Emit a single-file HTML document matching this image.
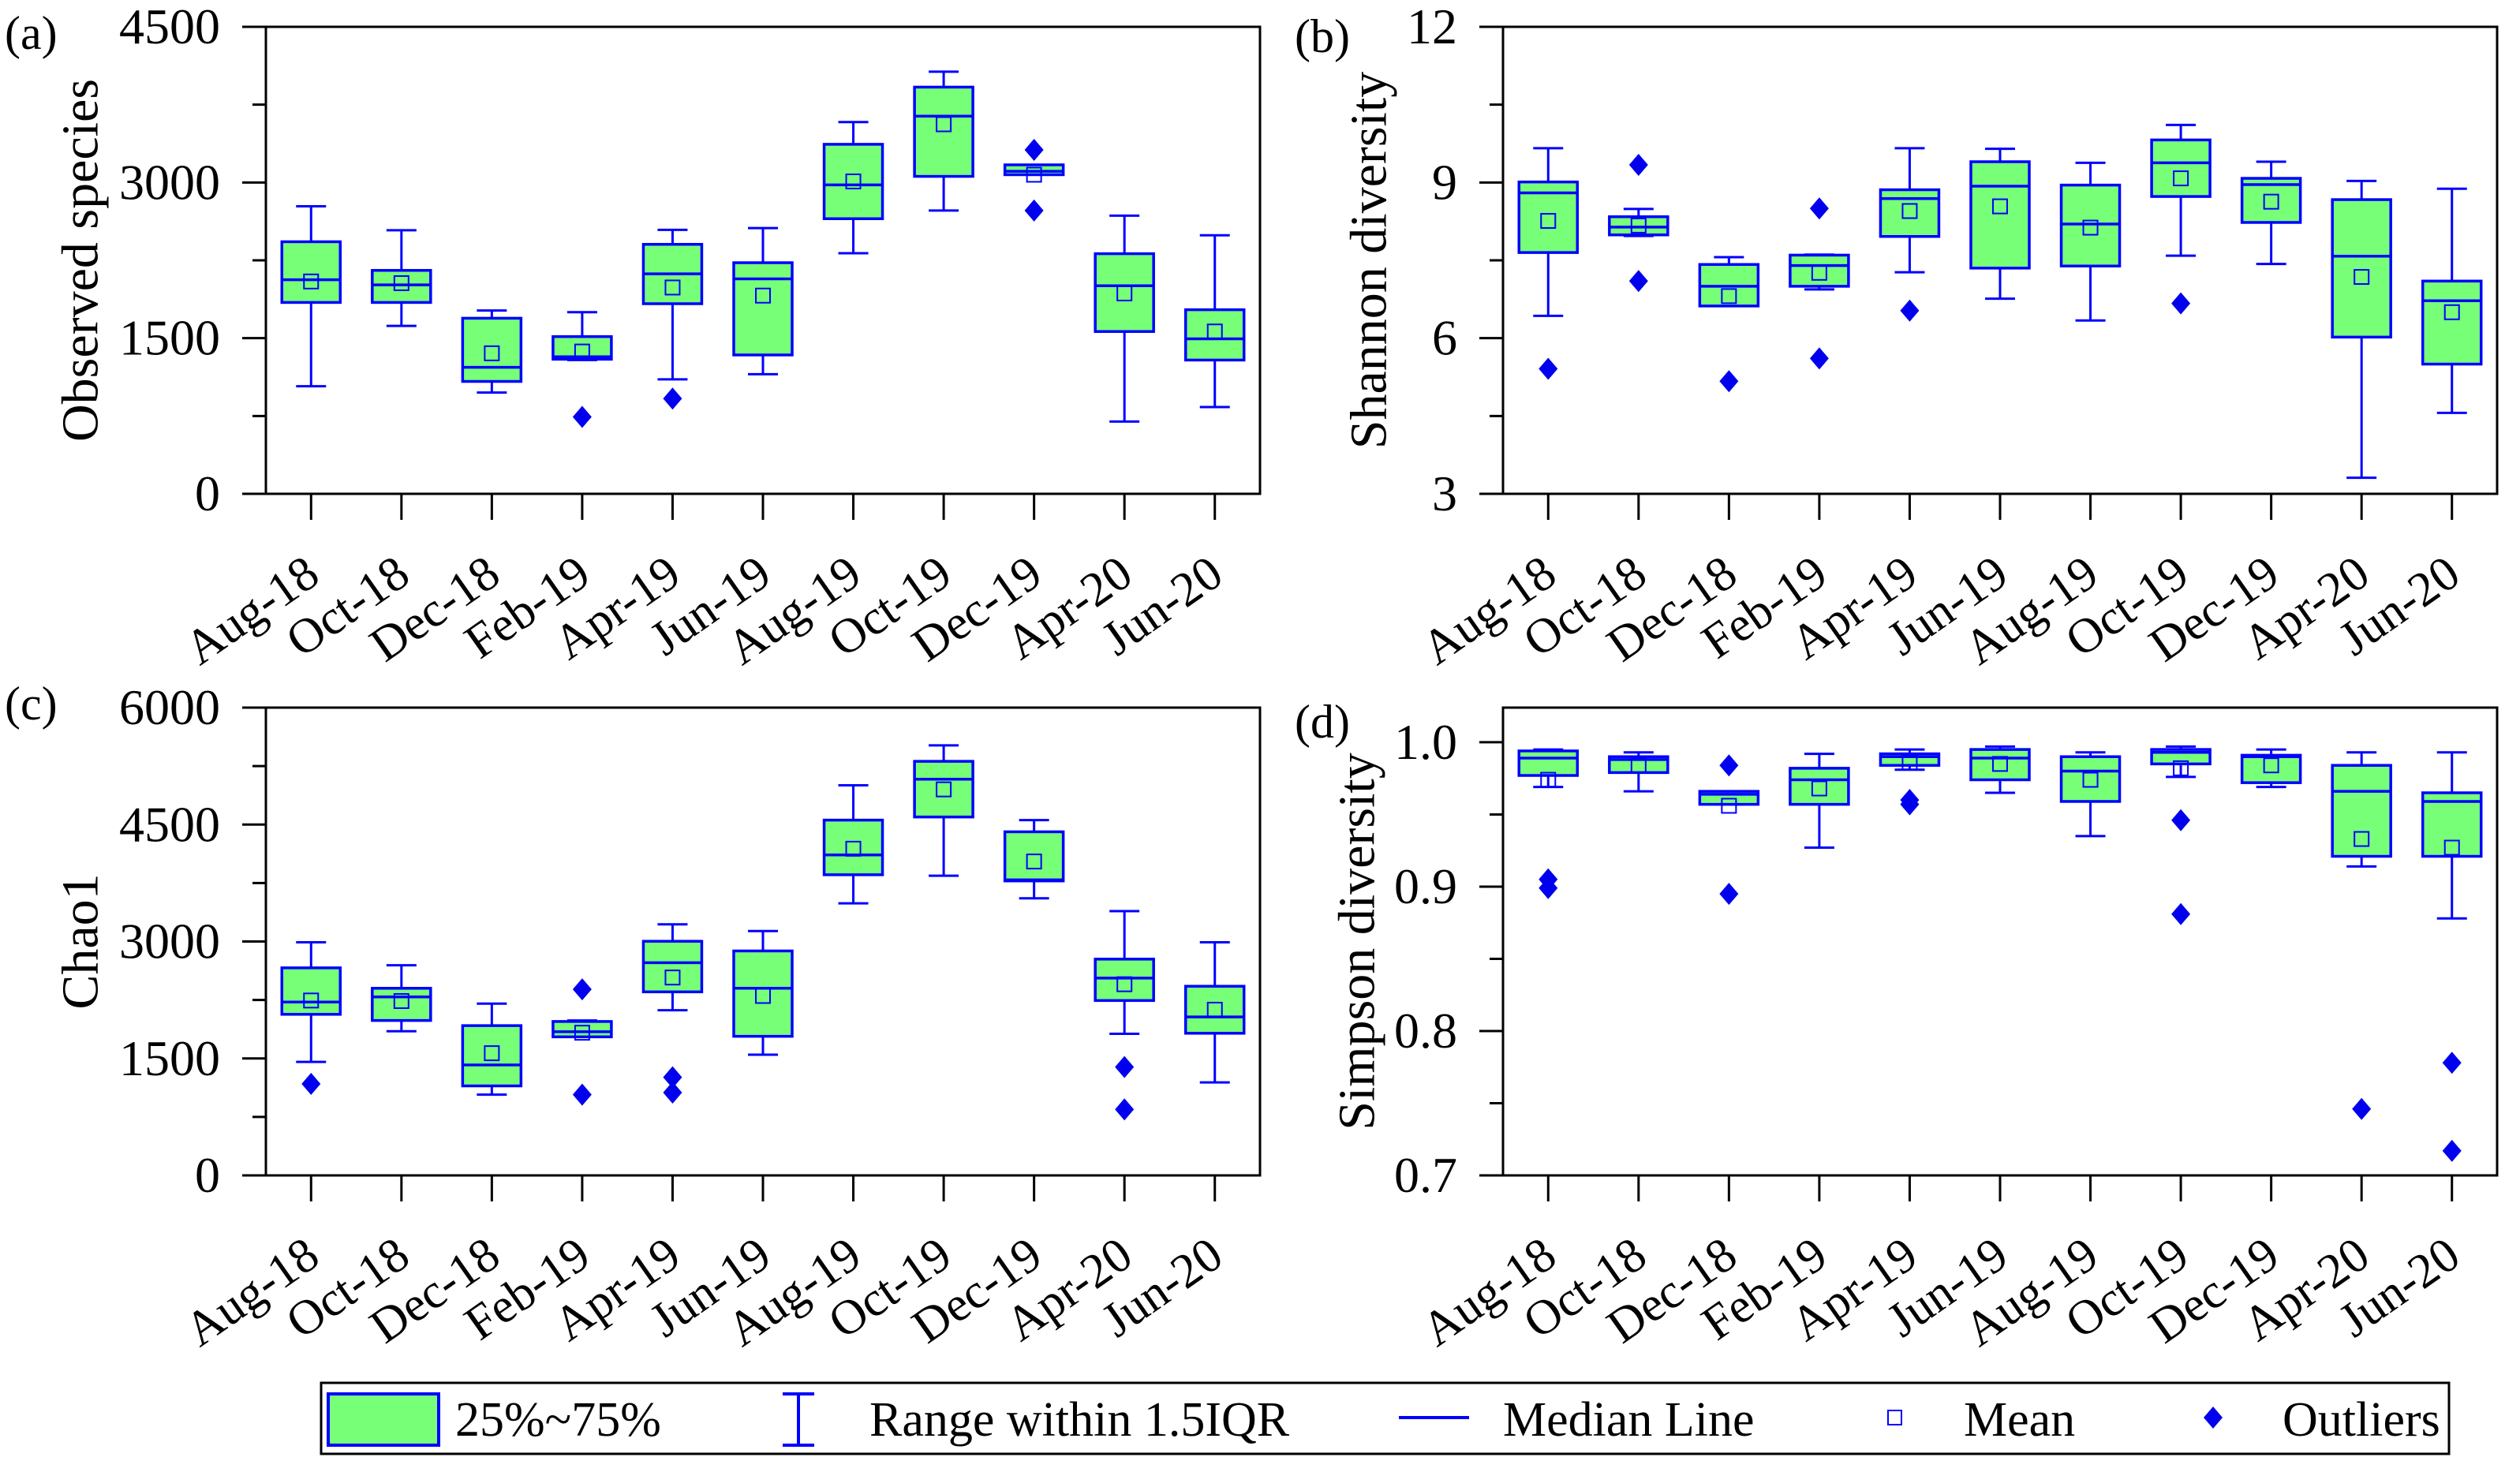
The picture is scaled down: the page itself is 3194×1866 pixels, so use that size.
<!DOCTYPE html>
<html><head><meta charset="utf-8"><style>
html,body{margin:0;padding:0;background:#fff}
svg{display:block}
text{font-family:"Liberation Serif",serif;fill:#000}
</style></head><body>
<svg id="fig" width="3194" height="1866" viewBox="0 0 3194 1866" xmlns="http://www.w3.org/2000/svg">
<g id="panels"></g>
<g id="legend">
  <rect x="407" y="1753" width="2697" height="90" fill="#fff" stroke="#000" stroke-width="3"/>
  <rect x="416" y="1767" width="140" height="65" fill="#77ff77" stroke="#0000ff" stroke-width="4"/>
  <text x="577" y="1820" font-size="62">25%~75%</text>
  <g stroke="#0000ff" stroke-width="4">
    <line x1="1012" y1="1767" x2="1012" y2="1832"/><line x1="992" y1="1767" x2="1032" y2="1767"/><line x1="992" y1="1832" x2="1032" y2="1832"/>
  </g>
  <text x="1102" y="1820" font-size="62">Range within 1.5IQR</text>
  <line x1="1773" y1="1797" x2="1862" y2="1797" stroke="#0000ff" stroke-width="4"/>
  <text x="1905" y="1820" font-size="62">Median Line</text>
  <rect x="2393" y="1788" width="17" height="18" fill="none" stroke="#0000ff" stroke-width="2"/>
  <text x="2489" y="1820" font-size="62">Mean</text>
  <polygon points="2805,1783 2817,1797 2805,1811 2793,1797" fill="#0000ee"/>
  <text x="2893" y="1820" font-size="62">Outliers</text>
</g>
</svg>
<script>
const categories = ["Aug-18","Oct-18","Dec-18","Feb-19","Apr-19","Jun-19","Aug-19","Oct-19","Dec-19","Apr-20","Jun-20"];

// Panel (a) Observed species
const obsLow  = [1037,1618,976,1289,1103,1153,2318,2730,3075,696,836];
const obsQ1   = [1844,1844,1083,1297,1832,1338,2651,3059,3075,1564,1289];
const obsMed  = [2063,2013,1219,1321,2120,2071,2977,3639,3108,2005,1494];
const obsQ3   = [2429,2153,1692,1515,2404,2227,3368,3919,3170,2314,1774];
const obsHigh = [2771,2540,1766,1750,2544,2561,3582,4068,3170,2680,2491];
const obsMean = [2046,2030,1354,1371,1988,1910,3010,3561,3075,1931,1564];
const obsOut  = [[],[],[],[741],[918],[],[],[],[3314,2730],[],[]];
const obsTicks = [0,1500,3000,4500];

// Panel (b) Shannon
const shLow  = [6.43,7.97,6.62,6.94,7.27,6.76,6.34,7.59,7.43,3.31,4.56];
const shQ1   = [7.65,7.99,6.62,7.00,7.96,7.35,7.39,8.73,8.23,6.02,5.50];
const shMed  = [8.80,8.14,7.00,7.40,8.69,8.93,8.20,9.38,8.96,7.58,6.72];
const shQ3   = [9.01,8.34,7.42,7.60,8.86,9.40,8.95,9.82,9.08,8.67,7.10];
const shHigh = [9.66,8.49,7.56,7.61,9.66,9.65,9.38,10.11,9.40,9.03,8.88];
const shMean = [8.26,8.17,6.81,7.26,8.45,8.54,8.13,9.08,8.63,7.18,6.50];
const shOut  = [[5.41],[9.34,7.10],[5.17],[8.50,5.61],[6.53],[],[],[6.67],[],[],[]];
const shTicks = [3,6,9,12];

// Panel (c) Chao1
const chLow  = [1456,1849,1036,1777,2118,1548,3489,3843,3554,1816,1193];
const chQ1   = [2066,1987,1148,1777,2354,1784,3856,4597,3777,2243,1823];
const chMed  = [2223,2289,1416,1843,2728,2400,4111,5082,3790,2531,2033];
const chQ3   = [2662,2400,1921,1974,3003,2879,4557,5311,4407,2774,2426];
const chHigh = [2990,2695,2203,1987,3220,3134,5003,5515,4557,3390,2990];
const chMean = [2243,2236,1567,1830,2538,2302,4190,4951,4026,2452,2125];
const chOut  = [[1174],[],[],[2387,1036],[1259,1062],[],[],[],[],[1390,846],[]];
const chTicks = [0,1500,3000,4500,6000];

// Panel (d) Simpson
const siLow  = [0.969,0.966,0.957,0.927,0.981,0.965,0.935,0.976,0.969,0.914,0.878];
const siQ1   = [0.977,0.979,0.957,0.957,0.984,0.974,0.959,0.985,0.972,0.921,0.921];
const siMed  = [0.989,0.988,0.964,0.974,0.990,0.989,0.980,0.993,0.990,0.966,0.959];
const siQ3   = [0.994,0.990,0.966,0.982,0.992,0.995,0.990,0.995,0.991,0.984,0.965];
const siHigh = [0.995,0.993,0.966,0.992,0.995,0.997,0.993,0.997,0.995,0.993,0.993];
const siMean = [0.974,0.984,0.956,0.968,0.986,0.985,0.974,0.982,0.984,0.933,0.927];
const siOut  = [[0.905,0.899],[],[0.984,0.895],[],[0.960,0.957],[],[],[0.946,0.881],[],[0.746],[0.778,0.717]];
const siTicks = [0.7,0.8,0.9,1.0];

const NS = "http://www.w3.org/2000/svg";
const root = document.getElementById("panels");
function mk(tag, attrs, parent){
  const e = document.createElementNS(NS, tag);
  for (const k in attrs) e.setAttribute(k, attrs[k]);
  parent.appendChild(e);
  return e;
}

function panel(cfg){
  const g = mk("g", {}, root);
  
  
  const L=cfg.left,R=cfg.right,T=cfg.top,B=cfg.bottom;
  const y = v => B - (v - cfg.ymin)/(cfg.ymax - cfg.ymin)*(B - T);
  const bw = (R - L)/categories.length;
  const x = i => L + bw*(i+0.5);
  const fr = mk("rect", {x:L,y:T,width:R-L,height:B-T,fill:"none",stroke:"#000","stroke-width":3}, g);
  
  
  for (let k=0;k<cfg.ticks.length;k++){
    const v = cfg.ticks[k];
    const yy = y(v);
    mk("line",{x1:L-30,y1:yy,x2:L,y2:yy,stroke:"#000","stroke-width":3},g);
    const t = mk("text",{x:L-58,y:yy+21,"font-size":64,"text-anchor":"end"},g);
    t.textContent = cfg.fmt(v);
    
    
    if (k < cfg.ticks.length-1){
      const m = (v + cfg.ticks[k+1])/2;
      mk("line",{x1:L-17,y1:y(m),x2:L,y2:y(m),stroke:"#000","stroke-width":3},g);
    }
  }
  const yt = mk("text",{x:cfg.titleX,y:(T+B)/2,"font-size":66,"text-anchor":"middle",transform:`rotate(-90 ${cfg.titleX} ${(T+B)/2})`,"dominant-baseline":"central"},g);
  yt.textContent = cfg.title;
  
  
  const pl = mk("text",{x:cfg.labX,y:cfg.labY,"font-size":60},g);
  pl.textContent = cfg.label;
  
  
  for (let i=0;i<categories.length;i++){
    const cx = x(i);
    mk("line",{x1:cx,y1:B,x2:cx,y2:B+33,stroke:"#000","stroke-width":3},g);
    const ax = cx+14, ay = B+110;
    const xl = mk("text",{x:ax,y:ay,"font-size":62,"text-anchor":"end",transform:`rotate(-35 ${ax} ${ay})`},g);
    xl.textContent = categories[i];
    
    

    const bg = mk("g",{},g);
    
    
    const hw = 37, cw = 19;
    mk("line",{x1:cx,y1:y(cfg.high[i]),x2:cx,y2:y(cfg.q3[i]),stroke:"#0000ff","stroke-width":3},bg);
    mk("line",{x1:cx,y1:y(cfg.q1[i]),x2:cx,y2:y(cfg.low[i]),stroke:"#0000ff","stroke-width":3},bg);
    mk("line",{x1:cx-cw,y1:y(cfg.high[i]),x2:cx+cw,y2:y(cfg.high[i]),stroke:"#0000ff","stroke-width":3},bg);
    mk("line",{x1:cx-cw,y1:y(cfg.low[i]),x2:cx+cw,y2:y(cfg.low[i]),stroke:"#0000ff","stroke-width":3},bg);
    const yq3=y(cfg.q3[i]), yq1=y(cfg.q1[i]);
    mk("rect",{x:cx-hw,y:yq3,width:2*hw,height:Math.max(yq1-yq3,1),fill:"#77ff77",stroke:"#0000ff","stroke-width":3.5},bg);
    mk("line",{x1:cx-hw,y1:y(cfg.med[i]),x2:cx+hw,y2:y(cfg.med[i]),stroke:"#0000ff","stroke-width":3.5},bg);
    const ym = y(cfg.mean[i]);
    mk("rect",{x:cx-9,y:ym-9,width:18,height:18,fill:"none",stroke:"#0000ff","stroke-width":2},bg);
    for (const o of cfg.out[i]){
      const yo = y(o);
      const d = mk("polygon",{points:`${cx},${yo-14} ${cx+12},${yo} ${cx},${yo+14} ${cx-12},${yo}`,fill:"#0000ee"},bg);
      
      
    }
  }
}

panel({name:"panel-a-observed-species",left:337,right:1597,top:34,bottom:626,ymin:0,ymax:4500,ticks:obsTicks,fmt:v=>String(v),
  title:"Observed species",titleX:102,label:"(a)",labX:6,labY:62,
  low:obsLow,q1:obsQ1,med:obsMed,q3:obsQ3,high:obsHigh,mean:obsMean,out:obsOut});
panel({name:"panel-b-shannon-diversity",left:1905,right:3165,top:34,bottom:626,ymin:3,ymax:12,ticks:shTicks,fmt:v=>String(v),
  title:"Shannon diversity",titleX:1735,label:"(b)",labX:1641,labY:66,
  low:shLow,q1:shQ1,med:shMed,q3:shQ3,high:shHigh,mean:shMean,out:shOut});
panel({name:"panel-c-chao1",left:337,right:1597,top:897,bottom:1490,ymin:0,ymax:6000,ticks:chTicks,fmt:v=>String(v),
  title:"Chao1",titleX:102,label:"(c)",labX:6,labY:912,
  low:chLow,q1:chQ1,med:chMed,q3:chQ3,high:chHigh,mean:chMean,out:chOut});
panel({name:"panel-d-simpson-diversity",left:1905,right:3165,top:897,bottom:1490,ymin:0.7,ymax:1.024,ticks:siTicks,fmt:v=>v.toFixed(1),
  title:"Simpson diversity",titleX:1720,label:"(d)",labX:1641,labY:935,
  low:siLow,q1:siQ1,med:siMed,q3:siQ3,high:siHigh,mean:siMean,out:siOut});
</script>
</body></html>
